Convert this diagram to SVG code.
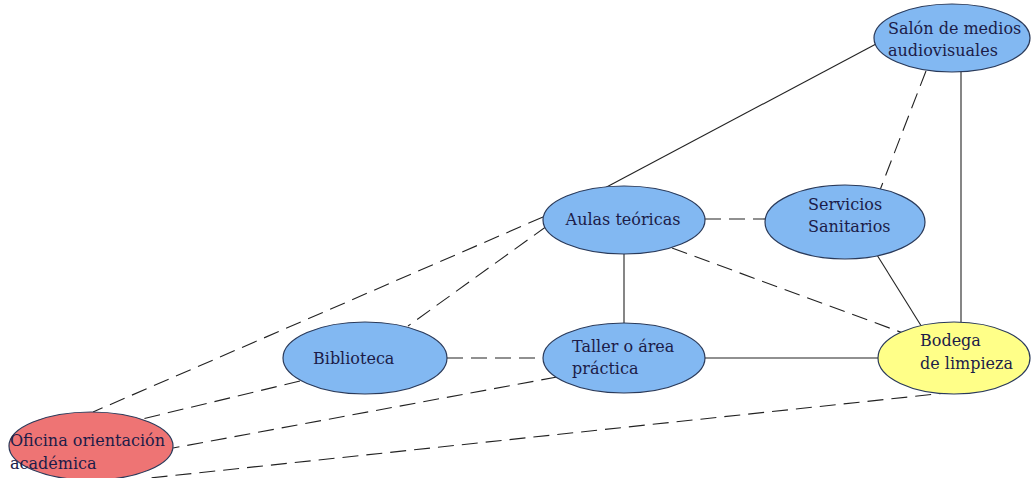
<svg xmlns="http://www.w3.org/2000/svg" width="1034" height="478" viewBox="0 0 1034 478">
  <style>
    .node ellipse { stroke: #2a3a5a; stroke-width: 1.2; }
    .blue { fill: #82b8f2; }
    .red { fill: #ee7474; }
    .yellow { fill: #ffff88; }
    .label { font-family: "DejaVu Serif", "Liberation Serif", serif; font-size: 16px; fill: #1c1c48; }
    .edge { stroke: #222; stroke-width: 1.1; fill: none; }
    .dash { stroke-dasharray: 16 8; }
  </style>
  <rect width="1034" height="478" fill="#ffffff"/>
  <g id="connectors">
    <line class="edge" x1="876" y1="44" x2="601" y2="190"/>
    <line class="edge dash" x1="926" y1="71" x2="880" y2="190"/>
    <line class="edge" x1="961" y1="72" x2="961" y2="322"/>
    <line class="edge dash" x1="705" y1="219" x2="765" y2="219"/>
    <line class="edge" x1="624" y1="253" x2="624" y2="323"/>
    <line class="edge dash" x1="672" y1="248" x2="922" y2="340"/>
    <line class="edge" x1="877" y1="255" x2="925" y2="332"/>
    <line class="edge dash" x1="547" y1="226" x2="408" y2="326"/>
    <line class="edge dash" x1="543" y1="217" x2="93" y2="412"/>
    <line class="edge dash" x1="447" y1="358" x2="543" y2="358"/>
    <line class="edge dash" x1="300" y1="381" x2="138" y2="420"/>
    <line class="edge dash" x1="557" y1="377" x2="173" y2="448"/>
    <line class="edge" x1="705" y1="358" x2="878" y2="358"/>
    <line class="edge dash" x1="955" y1="392" x2="150" y2="478"/>
  </g>
  <g id="salon" class="node">
    <ellipse class="blue" cx="952" cy="38" rx="78" ry="34"/>
    <text class="label" x="888" y="34">Salón de medios</text>
    <text class="label" x="888" y="56">audiovisuales</text>
  </g>
  <g id="aulas" class="node">
    <ellipse class="blue" cx="624" cy="220" rx="81" ry="34"/>
    <text class="label" x="623" y="225" text-anchor="middle">Aulas teóricas</text>
  </g>
  <g id="servicios" class="node">
    <ellipse class="blue" cx="845" cy="222" rx="80" ry="37"/>
    <text class="label" x="808" y="210">Servicios</text>
    <text class="label" x="808" y="232">Sanitarios</text>
  </g>
  <g id="biblioteca" class="node">
    <ellipse class="blue" cx="365" cy="358" rx="82" ry="36"/>
    <text class="label" x="313" y="364">Biblioteca</text>
  </g>
  <g id="taller" class="node">
    <ellipse class="blue" cx="624" cy="358" rx="81" ry="35"/>
    <text class="label" x="572" y="352">Taller o área</text>
    <text class="label" x="572" y="374">práctica</text>
  </g>
  <g id="bodega" class="node">
    <ellipse class="yellow" cx="954" cy="358" rx="76" ry="36"/>
    <text class="label" x="920" y="346">Bodega</text>
    <text class="label" x="920" y="369">de limpieza</text>
  </g>
  <g id="oficina" class="node">
    <ellipse class="red" cx="91" cy="446" rx="82" ry="34"/>
    <text class="label" x="10" y="446">Oficina orientación</text>
    <text class="label" x="10" y="469">académica</text>
  </g>
</svg>
